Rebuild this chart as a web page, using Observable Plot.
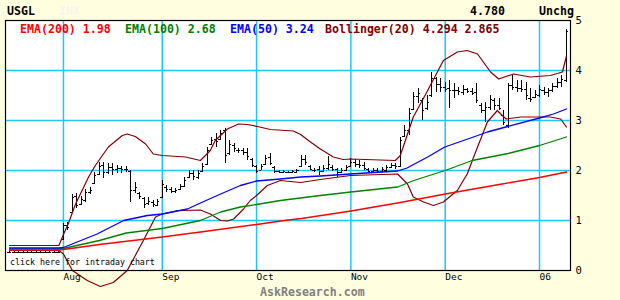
<!DOCTYPE html>
<html><head><meta charset="utf-8">
<script src="https://cdn.jsdelivr.net/npm/d3@7"></script>
<script src="https://cdn.jsdelivr.net/npm/@observablehq/plot@0.6"></script>
<style>
html,body{margin:0;padding:0;background:#ffffe0;}
#chart{width:620px;height:300px;}
</style></head><body><div id="chart"></div>
<script>
// trading days per month (Jul tail, Aug, Sep, Oct, Nov, Dec, Jan)
const barsPerMonth = [12, 22, 21, 21, 21, 21, 7];
const monthLabels = ["Aug", "Sep", "Oct", "Nov", "Dec", "06"];
const yTicks = [0, 1, 2, 3, 4, 5];

// daily OHLC, trading-day order
const high = [0.40,0.40,0.40,0.40,0.40,0.40,0.40,0.40,0.40,0.40,0.40,0.40,
 0.95,0.96,1.52,1.54,1.48,1.62,1.66,1.96,2.16,2.16,2.14,2.14,2.10,2.08,2.08,2.00,1.76,1.56,1.46,1.46,1.40,1.42,
 1.80,1.70,1.66,1.64,1.72,1.86,2.00,2.00,2.00,2.14,2.46,2.66,2.74,2.80,2.84,2.60,2.54,2.44,2.44,2.44,2.24,
 2.10,2.12,2.30,2.34,2.08,2.00,2.00,1.98,2.00,2.02,2.30,2.30,2.10,2.04,2.08,2.10,2.28,2.10,2.04,2.04,2.10,
 2.24,2.22,2.20,2.16,2.04,2.04,2.04,2.06,2.10,2.14,2.14,2.66,2.90,3.24,3.56,3.64,3.44,3.50,3.96,3.86,3.84,
 3.76,3.80,3.74,3.66,3.70,3.64,3.64,3.74,3.34,3.36,3.50,3.44,3.44,3.20,3.74,3.90,3.80,3.80,3.76,3.64,3.60,
 3.70,3.66,3.64,3.74,3.84,3.90,4.82];
const low = [0.34,0.34,0.34,0.34,0.34,0.34,0.34,0.34,0.34,0.34,0.34,0.34,
 0.60,0.80,1.14,1.24,1.30,1.36,1.52,1.72,1.90,1.84,1.92,1.90,1.94,1.95,1.96,1.36,1.54,1.42,1.24,1.30,1.26,1.28,
 1.44,1.56,1.54,1.54,1.60,1.66,1.84,1.80,1.82,1.96,2.10,2.50,2.46,2.60,2.14,2.30,2.36,2.34,2.30,2.20,2.06,
 1.94,2.00,2.10,2.10,1.94,1.94,1.94,1.94,1.94,1.94,2.06,2.10,2.00,1.96,1.90,1.96,2.00,1.98,1.86,1.94,1.98,
 2.06,2.06,2.04,2.00,1.96,1.96,1.96,1.96,1.96,2.04,2.02,2.06,2.66,2.70,3.20,3.34,3.00,3.20,3.46,3.56,3.56,
 3.56,3.24,3.44,3.50,3.50,3.54,3.50,3.34,3.14,2.96,3.20,3.20,3.20,2.90,2.84,3.60,3.56,3.56,3.40,3.36,3.44,
 3.46,3.50,3.46,3.56,3.64,3.66,3.76];
const open = [0.37,0.37,0.37,0.37,0.37,0.37,0.37,0.37,0.37,0.37,0.37,0.37,
 0.62,0.90,1.16,1.48,1.32,1.40,1.56,1.74,1.92,2.10,1.96,2.06,2.02,2.04,2.02,1.98,1.60,1.54,1.44,1.34,1.36,1.30,
 1.46,1.66,1.62,1.58,1.62,1.68,1.86,1.94,1.86,1.98,2.12,2.52,2.62,2.62,2.80,2.34,2.50,2.40,2.40,2.36,2.22,
 2.08,2.00,2.12,2.26,2.06,1.98,1.96,1.96,1.96,1.96,2.08,2.22,2.08,2.00,2.02,1.98,2.04,2.06,2.02,1.96,2.00,
 2.08,2.16,2.12,2.10,2.02,1.98,2.00,1.98,2.00,2.06,2.10,2.08,2.68,2.80,3.22,3.48,3.40,3.24,3.50,3.84,3.72,
 3.66,3.64,3.60,3.60,3.56,3.62,3.58,3.56,3.30,3.20,3.26,3.40,3.30,3.10,2.90,3.70,3.66,3.64,3.62,3.44,3.46,
 3.50,3.60,3.56,3.60,3.68,3.76,3.80];
const close = [0.36,0.36,0.36,0.36,0.36,0.36,0.36,0.36,0.36,0.36,0.36,0.36,
 0.90,0.86,1.46,1.30,1.42,1.56,1.60,1.90,2.08,1.96,2.06,2.02,2.04,2.02,2.03,1.60,1.66,1.48,1.32,1.38,1.32,1.38,
 1.72,1.62,1.58,1.60,1.68,1.80,1.94,1.88,1.94,2.08,2.40,2.60,2.58,2.74,2.30,2.52,2.44,2.40,2.36,2.28,2.10,
 1.98,2.08,2.24,2.14,1.98,1.96,1.98,1.96,1.98,2.00,2.22,2.16,2.02,2.00,1.98,2.04,2.12,2.02,1.96,2.00,2.06,
 2.16,2.12,2.10,2.04,1.98,2.00,1.98,2.02,2.06,2.10,2.08,2.60,2.80,3.14,3.48,3.54,3.20,3.36,3.84,3.72,3.66,
 3.62,3.60,3.60,3.58,3.62,3.58,3.54,3.40,3.20,3.26,3.42,3.30,3.24,2.96,3.70,3.66,3.64,3.62,3.50,3.42,3.52,
 3.62,3.56,3.60,3.68,3.76,3.82,4.78];

// indicator lines: [trading day, value]
const ema200 = [[0,0.41],[11,0.41],[12,0.42],[20,0.52],[34,0.67],[42.5,0.77],[55,0.92],[62,1.01],[65,1.04],
 [76,1.19],[87,1.36],[97,1.53],[109,1.72],[118,1.86],[124,1.97]];
const ema100 = [[0,0.43],[11,0.43],[12,0.44],[20,0.60],[26,0.75],[34,0.84],[42.5,1.0],[47,1.17],[51.4,1.27],
 [55,1.32],[60.3,1.4],[69.2,1.5],[76,1.57],[86.4,1.67],[90,1.8],[97,2.0],[103,2.2],[111,2.34],[118,2.5],[124,2.67]];
const ema50 = [[0,0.45],[11,0.45],[12,0.46],[19.5,0.73],[25.4,1.0],[30.7,1.1],[34,1.13],[39.6,1.23],[42.5,1.35],
 [47,1.53],[51.4,1.7],[55,1.79],[60.3,1.83],[64.8,1.87],[69.2,1.89],[75.9,1.93],[86.4,1.99],[88.5,2.05],[93.1,2.27],
 [96.9,2.47],[103.3,2.67],[106.4,2.77],[110.9,2.88],[118,3.05],[121.1,3.13],[124,3.23]];
const bollUpper = [[0,0.5],[11,0.5],[12,0.72],[13.1,0.94],[14.7,1.33],[17.6,1.87],[19.1,2.1],[22,2.47],[25.1,2.7],
 [26.2,2.73],[28,2.68],[30.3,2.53],[32,2.33],[34,2.3],[39.2,2.27],[42.5,2.2],[44.7,2.4],[45.8,2.6],[48.5,2.83],
 [51,2.93],[53,2.92],[55.2,2.88],[58.1,2.82],[63.2,2.79],[64.8,2.72],[67,2.57],[69.2,2.43],[72.1,2.27],[74.3,2.22],
 [75.9,2.23],[85.9,2.2],[87,2.3],[89.9,3.07],[93.1,3.6],[96.6,4.2],[99.7,4.37],[101.9,4.4],[104.2,4.33],[107.1,3.97],
 [108.9,3.83],[112.2,3.93],[116,3.87],[120.4,3.9],[123.1,3.97],[124,4.29]];
const bollLower = [[0,0.4],[11,0.4],[12,0.33],[14,0.0],[17.3,-0.2],[20.2,-0.32],[23.1,-0.24],[26.2,0.0],[29.8,0.6],
 [32.5,1.07],[34,1.13],[37.6,1.2],[42.5,1.21],[44.7,1.13],[47,1.0],[48.5,0.99],[49.9,1.03],[52.1,1.23],[53.6,1.4],
 [55,1.5],[57.4,1.7],[60.3,1.8],[64.8,1.76],[69.2,1.82],[75.9,1.9],[86.4,1.93],[88.6,1.73],[89.9,1.47],[92.2,1.37],
 [94.4,1.3],[96.6,1.37],[99.7,1.6],[101.9,1.93],[104.2,2.47],[106.4,2.97],[108.6,3.2],[109.7,3.1],[110.6,3.03],
 [113.8,3.07],[120.4,3.07],[122.7,3.03],[124,2.87]];

const symbol = "USGL";
const lastPrice = "4.780";
const change = "Unchg";
const legendItems = [
  {label: "EMA(200) 1.98", color: "#ff0000"},
  {label: "EMA(100) 2.68", color: "#008000"},
  {label: "EMA(50) 3.24", color: "#0000ff"},
  {label: "Bollinger(20) 4.294 2.865", color: "#800000"}
];

// derived
const monthStart = [];
{ let acc = 0; barsPerMonth.forEach((n, i) => { if (i > 0) monthStart.push(acc); acc += n; }); }
const bars = high.map((h, i) => ({i, h, l: low[i], o: open[i], c: close[i]}));
const GRID = "#1ec8f0";
const mono = "'DejaVu Sans Mono', monospace";
const crisp = {shapeRendering: "crispEdges"};

const chart = Plot.plot({
  width: 620, height: 300,
  marginLeft: 5, marginRight: 50, marginTop: 20, marginBottom: 30,
  style: {background: "transparent", fontFamily: mono, fontSize: "10px", color: "black", overflow: "visible"},
  x: {domain: [-0.9, 124.9], axis: null},
  y: {domain: [0, 5], axis: null},
  marks: [
    Plot.frame({fill: "white", stroke: null}),
    Plot.gridX(monthStart, {stroke: GRID, strokeOpacity: 1, strokeWidth: 1.5}),
    Plot.gridY([1, 2, 3, 4], {stroke: GRID, strokeOpacity: 1, strokeWidth: 1.5}),
    Plot.ruleX(bars, {x: "i", y1: "l", y2: "h", stroke: "black", strokeWidth: 1, ...crisp}),
    Plot.ruleY(bars, {y: "o", x1: d => d.i - 0.45, x2: "i", stroke: "black", strokeWidth: 1, ...crisp}),
    Plot.ruleY(bars, {y: "c", x1: "i", x2: d => d.i + 0.45, stroke: "black", strokeWidth: 1, ...crisp}),
    Plot.line(bollUpper, {x: d => d[0], y: d => d[1], stroke: "#800000", strokeWidth: 1.2}),
    Plot.line(bollLower, {x: d => d[0], y: d => d[1], stroke: "#800000", strokeWidth: 1.2}),
    Plot.line(ema100, {x: d => d[0], y: d => d[1], stroke: "#008000", strokeWidth: 1.3}),
    Plot.line(ema50, {x: d => d[0], y: d => d[1], stroke: "#0000ff", strokeWidth: 1.3}),
    Plot.line(ema200, {x: d => d[0], y: d => d[1], stroke: "#ff0000", strokeWidth: 1.4}),
    Plot.frame({stroke: "black", strokeWidth: 1.2}),
    Plot.axisY(yTicks, {anchor: "right", tickSize: 0, tickPadding: 5, fontSize: 10.5, fill: "black",
      tickFormat: d => String(d), label: null}),
    Plot.axisX(monthStart, {anchor: "bottom", tickSize: 0, tickPadding: 3, textAnchor: "start", fontSize: 9.5, fill: "black",
      tickFormat: d => monthLabels[monthStart.indexOf(d)], label: null})
  ]
});
document.getElementById("chart").appendChild(chart);

const svg = d3.select(chart);
function txt(x, y, s, opts = {}) {
  svg.append("text").attr("x", x).attr("y", y)
    .attr("text-anchor", "start")
    .attr("font-family", mono)
    .attr("font-size", opts.size || 11.6)
    .attr("font-weight", opts.weight || "bold")
    .attr("fill", opts.color || "black")
    .attr("xml:space", "preserve")
    .text(s);
}
txt(7, 15, symbol);
txt(59, 15, "INX", {color: "#f6f6ea"});
txt(470, 15, lastPrice);
txt(539, 15, change);
const legendX = [20, 125, 230, 325];
legendItems.forEach((d, k) => txt(legendX[k], 33, d.label, {color: d.color}));
txt(10, 265, "click here for intraday chart", {size: 8.3, weight: "normal"});
txt(260, 296, "AskResearch.com", {color: "#808080"});
</script></body></html>
